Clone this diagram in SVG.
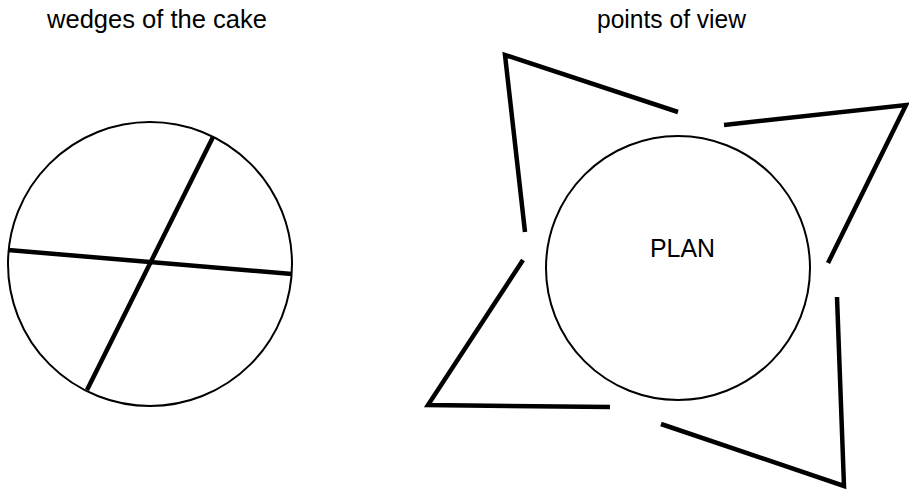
<svg xmlns="http://www.w3.org/2000/svg" width="909" height="494" viewBox="0 0 909 494">
<style>
.title{font-family:"Liberation Sans",Arial,sans-serif;font-size:25px;fill:#000}
.outline{fill:none;stroke:#000;stroke-width:2}
.thick{fill:none;stroke:#000;stroke-width:4.5;stroke-linecap:butt;stroke-linejoin:miter}
</style>
<rect width="909" height="494" fill="#fff"/>
<text class="title" x="47" y="28" textLength="220" lengthAdjust="spacingAndGlyphs">wedges of the cake</text>
<text class="title" x="597" y="28" textLength="149" lengthAdjust="spacingAndGlyphs">points of view</text>
<g id="cake">
<circle class="outline" cx="150" cy="264" r="142"/>
<line class="thick" x1="8" y1="250" x2="292" y2="274"/>
<line class="thick" x1="213" y1="137" x2="87" y2="390"/>
</g>
<g id="plan">
<circle class="outline" cx="678" cy="268" r="132"/>
<text x="650" y="257" style="font-family:'Liberation Sans',Arial,sans-serif;font-size:25px" textLength="65" lengthAdjust="spacingAndGlyphs">PLAN</text>
</g>
<g id="views">
<polyline class="thick" points="525,232 505,55 678,112"/>
<polyline class="thick" points="724,125 906,105 828,263"/>
<polyline class="thick" points="837,297 844,486 661,424"/>
<polyline class="thick" points="523,260 428,405 610,407"/>
</g>
</svg>
